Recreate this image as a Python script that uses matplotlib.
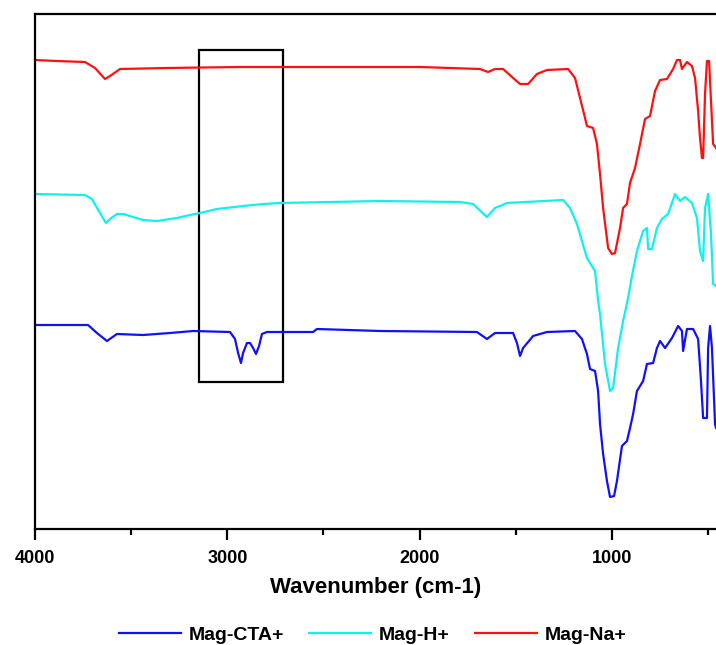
import matplotlib
matplotlib.use("Agg")
import matplotlib.pyplot as plt
from matplotlib.patches import Rectangle
from matplotlib.ticker import MultipleLocator

plt.rcParams['font.family'] = ['Liberation Sans', 'DejaVu Sans']

# Wavenumbers (cm-1) and transmittance (arbitrary units, offset traces)
na_wn = [4000, 3886, 3740, 3688, 3636, 3610, 3558, 3314, 2934, 2622, 2310, 1998, 1686, 1644, 1608,
         1566, 1514, 1478, 1436, 1390, 1338, 1228, 1192, 1166, 1140, 1130, 1098, 1078, 1062, 1046,
         1020, 1000, 984, 958, 942, 922, 906, 880, 854, 828, 802, 776, 750, 714, 682, 662, 646, 636,
         610, 584, 568, 552, 542, 532, 526, 516, 506, 495, 485, 474, 459]
na_t = [469, 468, 467, 461, 450, 453, 460, 461, 462, 462, 462, 462, 460, 457, 460,
        460, 451, 445, 445, 455, 459, 460, 451, 431, 411, 403, 401, 385, 355, 321,
        281, 275, 276, 301, 321, 325, 346, 361, 385, 410, 413, 438, 449, 450, 460, 469, 469, 460,
        467, 463, 451, 418, 391, 371, 371, 435, 468, 468, 428, 385, 381]

h_wn = [4000, 3740, 3704, 3662, 3631, 3610, 3574, 3542, 3438, 3366, 3262, 3194, 3142, 3054, 2918,
        2814, 2726, 2206, 1790, 1722, 1650, 1608, 1546, 1254, 1218, 1182, 1130, 1088, 1072, 1062,
        1036, 1010, 994, 968, 942, 916, 896, 870, 838, 818, 812, 792, 766, 740, 708, 672, 646, 620,
        584, 558, 542, 526, 516, 500, 485, 474, 459]
h_t = [335, 334, 330, 316, 306, 310, 315, 315, 309, 308, 311, 314, 316, 320, 323,
       325, 326, 328, 327, 325, 312, 321, 326, 329, 321, 305, 271, 258, 228, 215,
       165, 138, 141, 181, 208, 231, 253, 278, 298, 301, 280, 280, 301, 310, 315, 335, 328, 332,
       326, 311, 278, 268, 321, 335, 295, 245, 243]

cta_wn = [4000, 3724, 3678, 3626, 3574, 3438, 3298, 3178, 2986, 2960, 2944, 2929, 2918, 2898, 2882,
          2866, 2851, 2835, 2820, 2794, 2554, 2534, 2206, 1702, 1650, 1608, 1514, 1494, 1478, 1462,
          1410, 1338, 1192, 1156, 1130, 1114, 1088, 1072, 1062, 1046, 1026, 1010, 989, 974, 948,
          922, 906, 890, 870, 838, 818, 786, 766, 750, 724, 688, 656, 636, 630, 610, 578, 552, 537,
          526, 506, 500, 490, 480, 464, 459]
cta_t = [204, 204, 196, 188, 195, 194, 196, 198, 197, 190, 176, 166, 176, 186, 186,
         181, 175, 183, 195, 197, 197, 200, 198, 197, 190, 196, 196, 186, 173, 181,
         193, 197, 198, 190, 175, 160, 158, 138, 105, 75, 48, 32, 33, 48, 83,
         88, 101, 115, 138, 148, 165, 166, 181, 188, 181, 191, 203, 198, 178, 200, 200, 190, 148,
         111, 111, 181, 203, 181, 105, 101]

series_labels = ['Mag-CTA+', 'Mag-H+', 'Mag-Na+']
series_colors = ['#1010ff', '#10f0f0', '#ff1010']
x_ticks = [4000, 3000, 2000, 1000]
box_wn = (2710, 3147)
box_t = (147, 479)

fig = plt.figure(figsize=(7.16, 6.45), dpi=100)
ax = fig.add_axes([35/716, 116/645, 681/716, 515/645])

for wn, t, lab, col in zip([cta_wn, h_wn, na_wn], [cta_t, h_t, na_t], series_labels, series_colors):
    ax.plot(wn, t, color=col, lw=1.6, label=lab)

ax.add_patch(Rectangle((box_wn[0], box_t[0]), box_wn[1] - box_wn[0], box_t[1] - box_t[0],
                       fill=False, edgecolor='black', lw=1.6))

ax.set_xlim(4000, 459)
ax.set_ylim(0, 515)
ax.set_xticks(x_ticks)
ax.set_xticklabels([str(v) for v in x_ticks], fontweight='bold', fontsize=13)
ax.xaxis.set_minor_locator(MultipleLocator(500))
ax.tick_params(axis='x', which='major', direction='out', length=8, width=1.6, pad=7)
ax.tick_params(axis='x', which='minor', direction='out', length=4, width=1.6)
ax.set_yticks([])
ax.spines['right'].set_visible(False)
for s in ['left', 'top', 'bottom']:
    ax.spines[s].set_linewidth(1.6)

ax.set_xlabel('Wavenumber (cm-1)', fontsize=16, fontweight='bold', labelpad=7)

ax.legend(loc='center', bbox_to_anchor=(0.496, -0.206), ncol=3, frameon=False,
          prop={'weight': 'bold', 'size': 14}, handlelength=3.2, columnspacing=1.3,
          handletextpad=0.4, borderaxespad=0)

fig.savefig('out.png', dpi=100)
